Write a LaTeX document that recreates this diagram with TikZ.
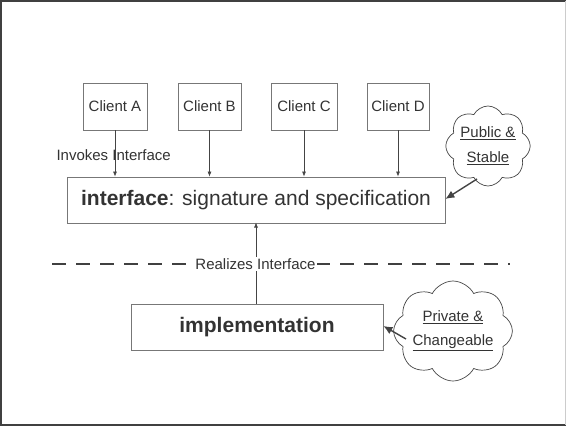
\documentclass[tikz,border=0pt]{standalone}
\usepackage{fontspec}
\setmainfont{Liberation Sans}
\usetikzlibrary{arrows.meta,shapes.symbols}
\definecolor{txt}{HTML}{333333}
\definecolor{boxline}{HTML}{777777}
\definecolor{arr}{HTML}{444444}
\begin{document}
\begin{tikzpicture}[x=1pt,y=-1pt,
  small/.style={font=\fontsize{15}{18}\selectfont, text=txt},
  big/.style={font=\fontsize{21}{25}\selectfont, text=txt},
  clientbox/.style={draw=boxline, line width=0.8pt, minimum width=64pt, minimum height=47pt, inner sep=0pt, small},
  mainbox/.style={draw=boxline, line width=0.8pt, inner sep=0pt, big},
  cloudnote/.style={cloud, cloud ignores aspect, draw=arr, line width=0.7pt, cloud puffs=8, cloud puff arc=125, inner sep=0pt, small, align=center},
  thinarrow/.style={draw=arr, line width=0.7pt, -{Latex[length=5pt,width=4pt]}},
  thickarrow/.style={draw=arr, line width=1.4pt, -{Latex[length=9pt,width=8pt]}}
]
\useasboundingbox (0,0) rectangle (566,426);
% frame
\draw[black!75, line width=2pt] (1,426) -- (1,1) -- (566,1);
\draw[black!75, line width=2pt] (0,425) -- (566,425);
\draw[black!20, line width=1pt] (565.5,1) -- (565.5,425);

% clients
\node[clientbox, minimum width=64pt] (ca) at (115,106.5) {Client A};
\node[clientbox, minimum width=63pt] (cb) at (209.5,106.5) {Client B};
\node[clientbox, minimum width=66pt] (cc) at (304,106.5) {Client C};
\node[clientbox, minimum width=62pt] (cd) at (398,106.5) {Client D};

% interface
\node[mainbox, minimum width=378pt, minimum height=46pt] (if) at (256,200) {\textbf{interface}: signature and specification};
% implementation
\node[mainbox, minimum width=252pt, minimum height=46pt] (im) at (257,327) {\textbf{implementation}};

\foreach \c in {ca,cb,cc,cd}{
  \draw[thinarrow] (\c.south) -- (\c.south |- if.north);
}
\node[small, anchor=west] (inv) at (53,155) {Invokes Interface};

% realizes
\draw[thinarrow] (im.north -| 256,0) -- (256,222.5);
\draw[black!75, line width=1.2pt, dash pattern=on 14pt off 10pt] (52,264) -- (510,264);
\node[small, fill=white, inner sep=1.5pt] (real) at (255.5,264) {Realizes Interface};

% clouds
\node[cloudnote, minimum width=74pt, minimum height=80pt] (c1) at (488,146) {\underline{Public \&}\\[7pt]\underline{Stable}};
\node[cloudnote, minimum width=114pt, minimum height=100pt] (c2) at (453,331) {\underline{Private \&}\\[6pt]\underline{Changeable}};
\coordinate (t1) at (477,179);
\coordinate (t2) at (406,339);
\draw[thickarrow] (t1) -- (if.east |- 0,199);
\draw[thickarrow] (t2) -- (im.east |- 0,326);
\end{tikzpicture}
\end{document}
